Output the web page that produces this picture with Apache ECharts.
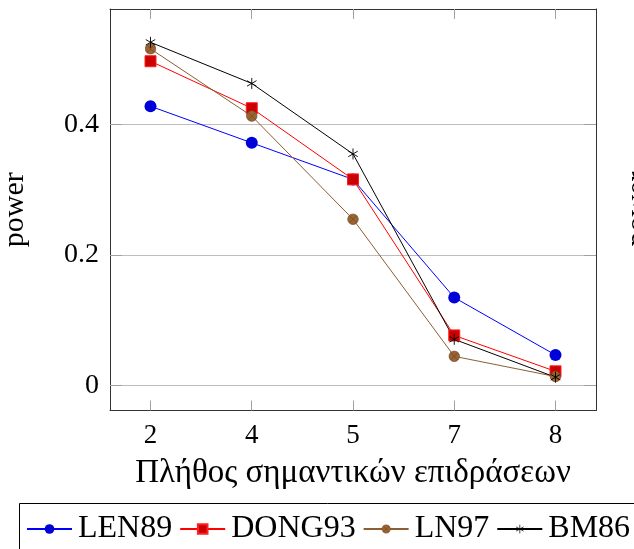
<!DOCTYPE html>
<html>
<head>
<meta charset="utf-8">
<script src="https://cdn.jsdelivr.net/npm/echarts@6/dist/echarts.min.js"></script>
<style>
  html, body { margin: 0; padding: 0; background: #fff; }
  #chart { width: 634px; height: 549px; }
</style>
</head>
<body>
<div id="chart"></div>
<script>
const categories = ["2", "4", "5", "7", "8"];
const len89 = [0.428, 0.372, 0.316, 0.135, 0.047];
const dong93 = [0.497, 0.425, 0.316, 0.077, 0.022];
const ln97 = [0.516, 0.413, 0.255, 0.045, 0.014];
const bm86 = [0.526, 0.463, 0.355, 0.071, 0.013];
const yTicks = [0, 0.2, 0.4];

const serif = "Liberation Serif";
const tickColor = "#a0a0a0";
const frameColor = "#333";

const svg = (s) => "image://data:image/svg+xml;charset=utf-8," + encodeURIComponent(s);
const otimes = svg(
  '<svg xmlns="http://www.w3.org/2000/svg" width="24" height="24" viewBox="0 0 24 24">' +
  '<circle cx="12" cy="12" r="10.5" fill="#9a6533" stroke="#7a4f28" stroke-width="1.5"/>' +
  '<path d="M4.6 4.6L19.4 19.4M19.4 4.6L4.6 19.4" stroke="#6b4422" stroke-width="1.3"/></svg>'
);
const asterisk = svg(
  '<svg xmlns="http://www.w3.org/2000/svg" width="24" height="24" viewBox="0 0 24 24">' +
  '<path d="M12 1V23M2.5 6.5L21.5 17.5M21.5 6.5L2.5 17.5" stroke="#000" stroke-width="1.8"/></svg>'
);

const toPoints = (vals) => vals.map((v, i) => [i, v]);

const chart = echarts.init(document.getElementById("chart"), null, { renderer: "canvas" });

const xBase = {
  type: "value",
  min: -0.4,
  max: 4.4,
  axisLine: { show: true, onZero: false, lineStyle: { color: frameColor, width: 1 } },
  axisTick: { show: true, inside: true, length: 10, customValues: [0, 1, 2, 3, 4], lineStyle: { color: tickColor } },
  splitLine: { show: false },
};
const yBase = {
  type: "value",
  min: -0.038,
  max: 0.577,
  axisLine: { show: true, onZero: false, lineStyle: { color: frameColor, width: 1 } },
  axisTick: { show: true, inside: true, length: 12, customValues: yTicks, lineStyle: { color: tickColor } },
};

const lineSeries = (name, vals, color, symbol, size, extra) => Object.assign({
  name,
  type: "line",
  data: toPoints(vals),
  symbol,
  symbolSize: size,
  showSymbol: true,
  lineStyle: { color, width: 1 },
  itemStyle: { color },
  emphasis: { disabled: true },
  z: 3,
}, extra || {});

chart.setOption({
  animation: false,
  backgroundColor: "#fff",
  grid: { left: 110, right: 38, top: 9, bottom: 138.5, outerBoundsMode: "none", containLabel: false },
  xAxis: [
    Object.assign({}, xBase, {
      position: "bottom",
      name: "Πλήθος σημαντικών επιδράσεων",
      nameLocation: "middle",
      nameGap: 46,
      nameTextStyle: { fontFamily: serif, fontSize: 33, color: "#000" },
      axisLabel: {
        customValues: [0, 1, 2, 3, 4],
        margin: 12,
        fontFamily: serif,
        fontSize: 27,
        color: "#000",
        formatter: (v) => categories[Math.round(v)],
      },
    }),
    Object.assign({}, xBase, { position: "top", axisLabel: { show: false } }),
  ],
  yAxis: [
    Object.assign({}, yBase, {
      position: "left",
      name: "power",
      nameLocation: "middle",
      nameRotate: 90,
      nameGap: 80,
      nameTextStyle: { fontFamily: serif, fontSize: 30, color: "#000" },
      axisLabel: {
        customValues: yTicks,
        margin: 11,
        fontFamily: serif,
        fontSize: 28,
        color: "#000",
        formatter: (v) => String(Math.round(v * 10) / 10),
      },
      splitLine: { show: true, lineStyle: { color: "#bdbdbd", width: 1 } },
    }),
    Object.assign({}, yBase, { position: "right", axisLabel: { show: false }, splitLine: { show: false } }),
  ],
  legend: {
    left: 26,
    top: 513,
    itemWidth: 45,
    itemHeight: 12,
    itemGap: 7,
    padding: 0,
    textStyle: { fontFamily: serif, fontSize: 32, color: "#000", padding: [0, 0, 0, 1] },
    data: ["LEN89", "DONG93", "LN97", "BM86"],
  },
  graphic: [
    {
      type: "rect",
      shape: { x: 19.5, y: 503.5, width: 640, height: 80 },
      style: { fill: "none", stroke: "#000", lineWidth: 1 },
      silent: true,
    },
    {
      type: "text",
      x: 623,
      y: 209,
      rotation: Math.PI / 2,
      style: {
        text: "power",
        fontFamily: serif,
        fontSize: 30,
        fill: "#000",
        align: "center",
        verticalAlign: "top",
      },
      silent: true,
    },
  ],
  series: [
    lineSeries("LEN89", len89, "#0000ff", "circle", 12, { itemStyle: { color: "#0000d8" } }),
    lineSeries("DONG93", dong93, "#ff0000", "rect", 11, {
      itemStyle: { color: "#cc0000", borderColor: "#ff2020", borderWidth: 1 },
    }),
    lineSeries("LN97", ln97, "#8b5e34", otimes, 12),
    lineSeries("BM86", bm86, "#000000", asterisk, 12),
  ],
});
</script>
</body>
</html>
